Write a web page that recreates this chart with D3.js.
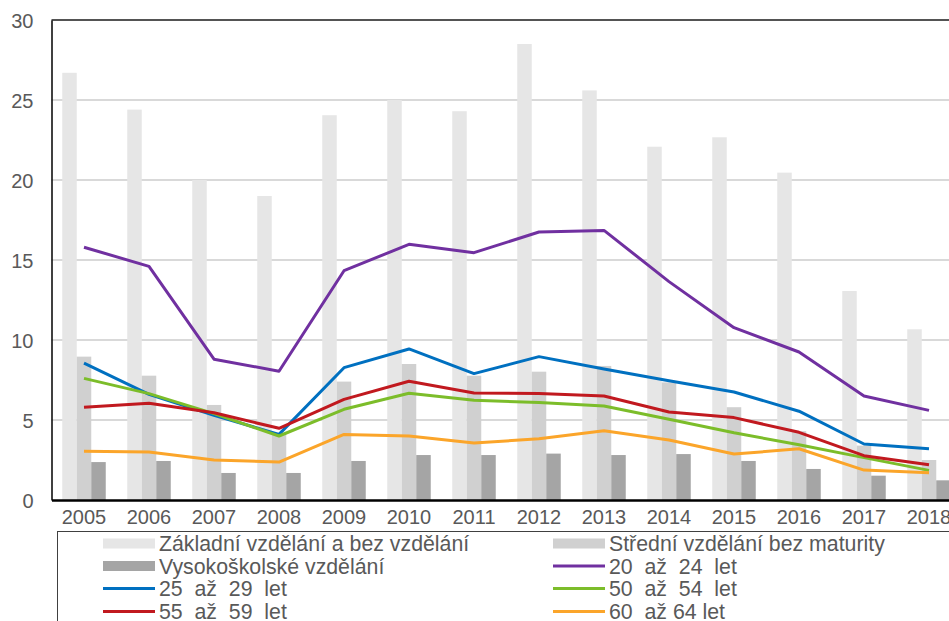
<!DOCTYPE html>
<html>
<head>
<meta charset="utf-8">
<script src="https://cdn.jsdelivr.net/npm/d3@7"></script>
<style>
  body { margin: 0; background: #fff; }
  svg { display: block; font-family: "Liberation Sans", Arial, sans-serif; }
</style>
</head>
<body>
<div id="container"></div>
<script>
const years = ['2005','2006','2007','2008','2009','2010','2011','2012','2013','2014','2015','2016','2017','2018'];
const yTicks = [0, 5, 10, 15, 20, 25, 30];

// bar series
const zakladni = [26.7, 24.4, 20.0, 19.0, 24.05, 25.0, 24.3, 28.5, 25.6, 22.08, 22.67, 20.46, 13.06, 10.67];
const stredni = [8.96, 7.77, 5.94, 4.2, 7.4, 8.5, 7.77, 8.02, 8.38, 7.35, 5.8, 4.3, 3.4, 2.5];
const vysokoskolske = [2.37, 2.44, 1.69, 1.69, 2.44, 2.81, 2.81, 2.9, 2.81, 2.87, 2.44, 1.94, 1.52, 1.23];

// line series
const vek2024 = [15.8, 14.6, 8.8, 8.05, 14.33, 15.98, 15.46, 16.75, 16.85, 13.65, 10.77, 9.25, 6.5, 5.6];
const vek2529 = [8.55, 6.6, 5.3, 4.1, 8.27, 9.44, 7.9, 8.96, 8.19, 7.45, 6.75, 5.55, 3.5, 3.2];
const vek5054 = [7.6, 6.65, 5.4, 4.0, 5.67, 6.67, 6.23, 6.1, 5.88, 5.05, 4.2, 3.45, 2.65, 1.85];
const vek5559 = [5.8, 6.05, 5.45, 4.48, 6.29, 7.42, 6.69, 6.65, 6.5, 5.5, 5.15, 4.23, 2.77, 2.2];
const vek6064 = [3.05, 3.0, 2.5, 2.37, 4.1, 4.0, 3.56, 3.83, 4.33, 3.75, 2.87, 3.2, 1.87, 1.7];

const barSeries = [
  { name: 'Základní vzdělání a bez vzdělání', values: zakladni, color: '#e6e6e6' },
  { name: 'Střední vzdělání bez maturity', values: stredni, color: '#d0d0d0' },
  { name: 'Vysokoškolské vzdělání', values: vysokoskolske, color: '#a5a5a5' }
];
const lineSeries = [
  { name: '20  až  24  let', values: vek2024, color: '#7030a0' },
  { name: '25  až  29  let', values: vek2529, color: '#0070c0' },
  { name: '50  až  54  let', values: vek5054, color: '#7cbd2a' },
  { name: '55  až  59  let', values: vek5559, color: '#c1191f' },
  { name: '60  až 64 let', values: vek6064, color: '#fba52a' }
];

const w = 949, h = 621;
const plotLeft = 51.5, plotTop = 20, plotBottom = 500;
const textColor = '#595959';

const svg = d3.select('#container').append('svg')
  .attr('width', w).attr('height', h);

const x = d3.scaleBand().domain(years).range([plotLeft, plotLeft + 14 * 65]).padding(0);
const y = d3.scaleLinear().domain([0, 30]).range([plotBottom, plotTop]);
const xSub = d3.scaleBand().domain(barSeries.map(d => d.name)).range([0, 43.5]);
const groupOffset = (x.bandwidth() - 43.5) / 2;

// gridlines
svg.append('g')
  .selectAll('line')
  .data(yTicks.filter(t => t > 0 && t < 30))
  .enter().append('line')
  .attr('x1', plotLeft).attr('x2', w)
  .attr('y1', d => y(d)).attr('y2', d => y(d))
  .attr('stroke', '#d9d9d9').attr('stroke-width', 2);

// bars
barSeries.forEach(s => {
  svg.append('g')
    .selectAll('rect')
    .data(s.values)
    .enter().append('rect')
    .attr('x', (d, i) => x(years[i]) + groupOffset + xSub(s.name))
    .attr('y', d => y(d))
    .attr('width', xSub.bandwidth())
    .attr('height', d => y(0) - y(d))
    .attr('fill', s.color);
});

// lines
const line = d3.line()
  .x((d, i) => x(years[i]) + x.bandwidth() / 2)
  .y(d => y(d));

lineSeries.forEach(s => {
  svg.append('path')
    .datum(s.values)
    .attr('d', line)
    .attr('fill', 'none')
    .attr('stroke', s.color)
    .attr('stroke-width', 3)
    .attr('stroke-linejoin', 'round');
});

// top border
svg.append('line')
  .attr('x1', plotLeft).attr('x2', w)
  .attr('y1', plotTop).attr('y2', plotTop)
  .attr('stroke', '#1a1a1a').attr('stroke-width', 1.5);

// y axis
const yAxis = d3.axisLeft(y).tickValues(yTicks).tickSize(0).tickPadding(18);
const gy = svg.append('g')
  .attr('transform', 'translate(' + plotLeft + ',0)')
  .call(yAxis);
gy.select('.domain').attr('stroke', '#000').attr('stroke-width', 1.5);
gy.selectAll('text')
  .attr('fill', textColor)
  .style('font-size', '20px')
  .attr('dy', '0.35em');

// x axis
const xAxis = d3.axisBottom(x).tickSize(0).tickPadding(10);
const gx = svg.append('g')
  .attr('transform', 'translate(0,' + plotBottom + ')')
  .call(xAxis);
gx.select('.domain').attr('stroke', '#000').attr('stroke-width', 2.5);
gx.selectAll('text')
  .attr('fill', textColor)
  .style('font-size', '20px');

// legend
const legend = svg.append('g').attr('id', 'legend');
legend.append('rect')
  .attr('x', 57.5).attr('y', 531.5)
  .attr('width', 960).attr('height', 120)
  .attr('fill', 'none')
  .attr('stroke', '#404040').attr('stroke-width', 1);

const legendItems = [
  { s: barSeries[0], type: 'bar' }, { s: barSeries[1], type: 'bar' },
  { s: barSeries[2], type: 'bar' }, { s: lineSeries[0], type: 'line' },
  { s: lineSeries[1], type: 'line' }, { s: lineSeries[2], type: 'line' },
  { s: lineSeries[3], type: 'line' }, { s: lineSeries[4], type: 'line' }
];
const colX = [103, 553];
const rowY = [543.5, 566, 588.5, 611.5];

legendItems.forEach((item, i) => {
  const cx = colX[i % 2], cy = rowY[Math.floor(i / 2)];
  const g = legend.append('g');
  if (item.type === 'bar') {
    g.append('rect')
      .attr('x', cx).attr('y', cy - 5)
      .attr('width', 52).attr('height', 10)
      .attr('fill', item.s.color);
  } else {
    g.append('line')
      .attr('x1', cx).attr('x2', cx + 52)
      .attr('y1', cy).attr('y2', cy)
      .attr('stroke', item.s.color).attr('stroke-width', 3);
  }
  g.append('text')
    .attr('x', cx + 56).attr('y', cy + 7.5)
    .attr('fill', textColor)
    .style('font-size', '21.3px')
    .style('white-space', 'pre')
    .text(item.s.name);
});
</script>
</body>
</html>
